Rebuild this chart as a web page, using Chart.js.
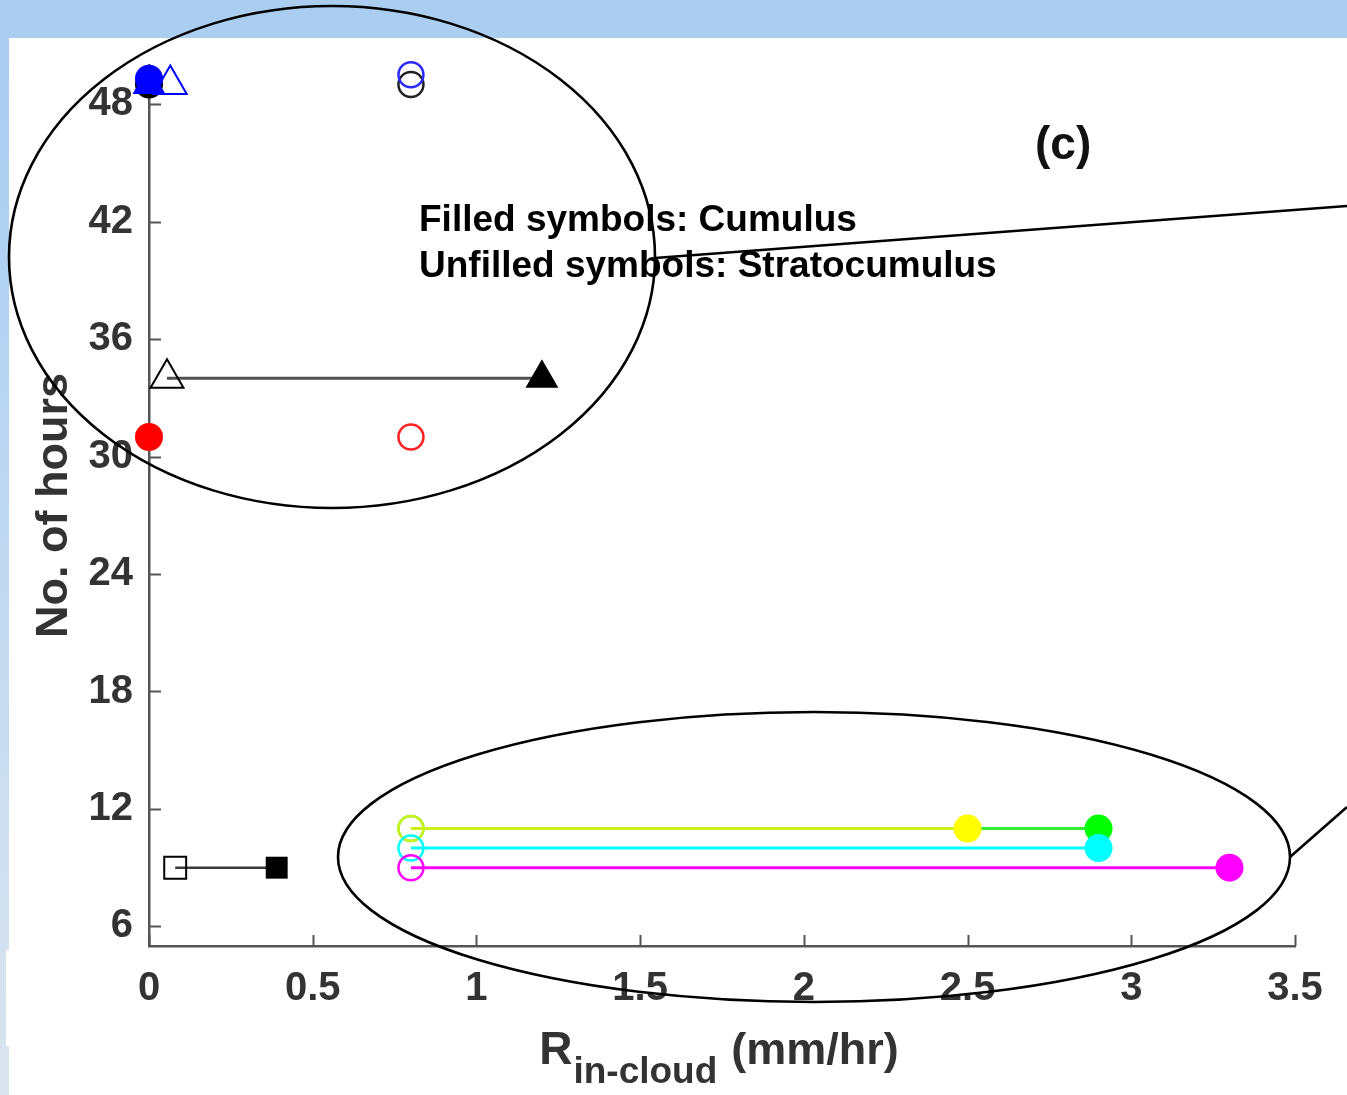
<!DOCTYPE html>
<html>
<head>
<meta charset="utf-8">
<title>No. of hours vs R in-cloud</title>
<script src="https://cdn.jsdelivr.net/npm/chart.js@4.4.1/dist/chart.umd.min.js"></script>
<style>
  html, body { margin: 0; padding: 0; }
  body {
    width: 1347px; height: 1095px; position: relative; overflow: hidden;
    background: linear-gradient(180deg, #a9ccf0 0%, #b4d3f2 30%, #c6dbf0 60%, #dae4ef 100%);
  }
  #band { position: absolute; left: 0; top: 0; width: 1347px; height: 38px; background: #aacdf0; }
  #panel { position: absolute; left: 9px; top: 38px; right: 0; bottom: 0; background: #ffffff; }
  #notch { position: absolute; left: 6px; top: 950px; width: 4px; height: 96px; background: #ffffff; }
  canvas { position: absolute; left: 0; top: 0; }
</style>
</head>
<body>
<div id="band"></div>
<div id="panel"></div>
<div id="notch"></div>
<canvas id="chart" width="1347" height="1095"></canvas>
<script>
// Axis ticks
const xTicks = [0, 0.5, 1, 1.5, 2, 2.5, 3, 3.5];
const yTicks = [6, 12, 18, 24, 30, 36, 42, 48];

// Each case: [Stratocumulus (unfilled), Cumulus (filled)]
const blackCircleX   = [0.8, 0];     const blackCircleY   = [49, 49];
const blueTriangleX  = [0.065, 0];   const blueTriangleY  = [49, 49];
const blueCircleX    = [0.8, 0];     const blueCircleY    = [49.5, 49.3];
const redCircleX     = [0.8, 0];     const redCircleY     = [31, 31];
const blackTriangleX = [0.055, 1.2]; const blackTriangleY = [34, 34];
const blackSquareX   = [0.08, 0.39]; const blackSquareY   = [9, 9];
const greenCircleX   = [0.8, 2.9];   const greenCircleY   = [11, 11];
const yellowCircleX  = [0.8, 2.5];   const yellowCircleY  = [11, 11];
const cyanCircleX    = [0.8, 2.9];   const cyanCircleY    = [10, 10];
const magentaCircleX = [0.8, 3.3];   const magentaCircleY = [9, 9];

const FONT = '"Liberation Sans", Arial, Helvetica, sans-serif';
const AXIS = '#555555';
const TEXT = '#333333';

const SIZE = { circleOpen: 12.5, circleFilled: 14, triangle: 19, rect: 15.5 };

function series(xs, ys, opt) {
  const style = opt.style;
  const rOpen = style === 'circle' ? SIZE.circleOpen : (style === 'triangle' ? SIZE.triangle : SIZE.rect);
  const rFilled = style === 'circle' ? SIZE.circleFilled : (style === 'triangle' ? SIZE.triangle : SIZE.rect);
  return {
    data: xs.map((x, i) => ({ x: x, y: ys[i] })),
    showLine: !!opt.line,
    borderColor: opt.line || 'rgba(0,0,0,0)',
    borderWidth: opt.lineWidth || 3,
    pointStyle: style,
    pointRadius: [rOpen, rFilled],
    pointBackgroundColor: ['rgba(0,0,0,0)', opt.fill],
    pointBorderColor: [opt.ring, opt.fill],
    pointBorderWidth: [opt.ringWidth || 2.5, 0],
    order: opt.order,
    clip: false
  };
}

const datasets = [
  series(blackCircleX,   blackCircleY,   { style: 'circle',   ring: '#222222', fill: '#000000', order: 10 }),
  series(blueTriangleX,  blueTriangleY,  { style: 'triangle', ring: '#0000ff', fill: '#0000ff', ringWidth: 2, order: 9 }),
  series(blueCircleX,    blueCircleY,    { style: 'circle',   ring: '#2a2aff', fill: '#0000ff', order: 8 }),
  series(redCircleX,     redCircleY,     { style: 'circle',   ring: '#ff2020', fill: '#ff0000', order: 7 }),
  series(blackTriangleX, blackTriangleY, { style: 'triangle', ring: '#000000', fill: '#000000', ringWidth: 2, line: '#505050', lineWidth: 3, order: 6 }),
  series(blackSquareX,   blackSquareY,   { style: 'rect',     ring: '#000000', fill: '#000000', ringWidth: 2, line: '#3a3a3a', lineWidth: 2.5, order: 5 }),
  series(greenCircleX,   greenCircleY,   { style: 'circle',   ring: '#33ee33', fill: '#00ff00', line: '#33ee33', order: 4 }),
  series(yellowCircleX,  yellowCircleY,  { style: 'circle',   ring: '#ccf01a', fill: '#ffff00', line: '#ccf01a', order: 3 }),
  series(cyanCircleX,    cyanCircleY,    { style: 'circle',   ring: '#00ffff', fill: '#00ffff', line: '#00ffff', order: 2 }),
  series(magentaCircleX, magentaCircleY, { style: 'circle',   ring: '#ff00ff', fill: '#ff00ff', line: '#ff00ff', order: 1 })
];

// Short tick marks pointing into the plot area
const inwardTicks = {
  id: 'inwardTicks',
  beforeDatasetsDraw(chart) {
    const { ctx } = chart;
    const xs = chart.scales.x, ys = chart.scales.y;
    ctx.save();
    ctx.strokeStyle = AXIS;
    ctx.lineWidth = 2;
    ctx.beginPath();
    xs.ticks.forEach(t => {
      const px = Math.round(xs.getPixelForValue(t.value)) + 0.5;
      ctx.moveTo(px, ys.bottom); ctx.lineTo(px, ys.bottom - 11);
    });
    ys.ticks.forEach(t => {
      const py = Math.round(ys.getPixelForValue(t.value)) + 0.5;
      ctx.moveTo(xs.left, py); ctx.lineTo(xs.left + 12, py);
    });
    ctx.stroke();
    ctx.restore();
  }
};

// x-axis title with subscript, panel letter, note text, and the highlight shapes
const overlay = {
  id: 'overlay',
  afterDraw(chart) {
    const { ctx } = chart;
    const xs = chart.scales.x;
    ctx.save();

    // R_in-cloud (mm/hr)
    const cx = (xs.left + xs.right) / 2;
    const big = 'bold 46px ' + FONT, sub = 'bold 37px ' + FONT, unit = 'bold 45px ' + FONT;
    ctx.font = big; const wR = ctx.measureText('R').width;
    ctx.font = sub; const wS = ctx.measureText('in-cloud').width;
    ctx.font = unit; const wU = ctx.measureText('(mm/hr)').width;
    const gap = 14;
    let px = cx - (wR + 1 + wS + gap + wU) / 2 - 3;
    ctx.fillStyle = TEXT;
    ctx.textBaseline = 'alphabetic';
    ctx.textAlign = 'left';
    ctx.font = big; ctx.fillText('R', px, 1064); px += wR + 1;
    ctx.font = sub; ctx.fillText('in-cloud', px, 1083); px += wS + gap;
    ctx.font = unit; ctx.fillText('(mm/hr)', px, 1064);

    // Panel letter
    ctx.fillStyle = '#111111';
    ctx.font = 'bold 46px ' + FONT;
    ctx.textBaseline = 'middle';
    ctx.fillText('(c)', 1035, 146);

    // Note text
    ctx.fillStyle = '#000000';
    ctx.font = 'bold 37px ' + FONT;
    ctx.fillText('Filled symbols: Cumulus', 419, 221);
    ctx.fillText('Unfilled symbols: Stratocumulus', 419, 267);

    // Highlight ellipses and their callout lines
    ctx.strokeStyle = '#000000';
    ctx.lineWidth = 2.6;
    ctx.beginPath(); ctx.ellipse(332, 257, 323, 251, 0, 0, Math.PI * 2); ctx.stroke();
    ctx.beginPath(); ctx.ellipse(814, 857, 476, 145, 0, 0, Math.PI * 2); ctx.stroke();
    ctx.beginPath();
    ctx.moveTo(655, 258); ctx.lineTo(1347, 206);
    ctx.moveTo(1290, 857); ctx.lineTo(1347, 807);
    ctx.stroke();
    ctx.restore();
  }
};

new Chart(document.getElementById('chart'), {
  type: 'scatter',
  data: { datasets: datasets },
  options: {
    responsive: false,
    animation: false,
    devicePixelRatio: 1,
    layout: { padding: { top: 65, right: 52, left: 0, bottom: 0 } },
    plugins: { legend: { display: false }, tooltip: { enabled: false } },
    scales: {
      x: {
        type: 'linear', min: 0, max: 3.5,
        afterBuildTicks: s => { s.ticks = xTicks.map(v => ({ value: v })); },
        afterFit: s => { s.height = 149; },
        grid: { display: false, drawTicks: false },
        border: { display: true, color: AXIS, width: 2.5 },
        ticks: {
          color: TEXT, padding: 19, maxRotation: 0, autoSkip: false,
          font: { family: FONT, size: 40, weight: 'bold' },
          callback: v => String(v)
        },
        title: { display: false }
      },
      y: {
        type: 'linear', min: 5, max: 50,
        afterBuildTicks: s => { s.ticks = yTicks.map(v => ({ value: v })); },
        afterFit: s => { s.width = 149; },
        grid: { display: false, drawTicks: false },
        border: { display: true, color: AXIS, width: 2.5 },
        ticks: {
          color: TEXT, padding: 16, autoSkip: false,
          font: { family: FONT, size: 40, weight: 'bold' },
          callback: v => String(v)
        },
        title: {
          display: true, text: 'No. of hours', color: TEXT,
          font: { family: FONT, size: 45, weight: 'bold' },
          padding: { top: 28, bottom: 0 }
        }
      }
    }
  },
  plugins: [inwardTicks, overlay]
});
</script>
</body>
</html>
